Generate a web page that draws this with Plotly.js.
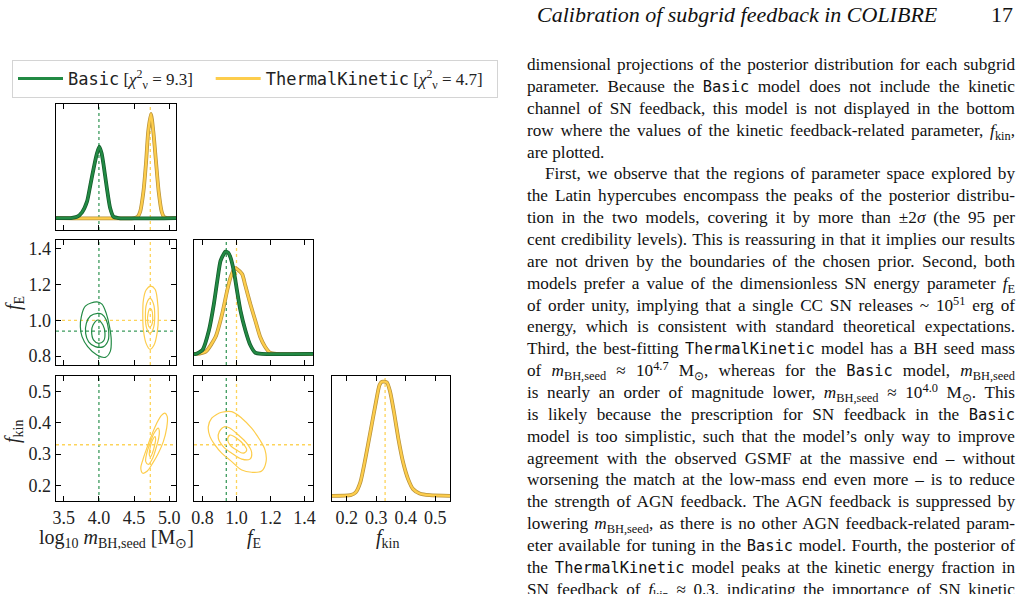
<!DOCTYPE html>
<html><head><meta charset="utf-8">
<script src="https://cdn.plot.ly/plotly-3.0.1.min.js"></script>
<style>
body{margin:0;background:#fff;}
#wrap{position:relative;width:1021px;height:594px;overflow:hidden;background:#fff;}
#plot{position:absolute;left:0;top:0;width:1021px;height:594px;}
.hdr{position:absolute;font-family:'Liberation Serif';font-size:22px;line-height:22px;color:#111;white-space:nowrap;}
.ln{position:absolute;font-family:'Liberation Serif';font-size:17.2px;line-height:22px;color:#111;white-space:nowrap;}
.tt{font-family:'DejaVu Sans Mono';font-size:15.4px;}
.ln sub,.ln sup{font-size:0.72em;line-height:0;}
.ln sub{vertical-align:-0.32em}
.ln sup{vertical-align:0.5em}
</style></head>
<body>
<div id="wrap">
<div id="plot"></div>
<div class="hdr" style="left:537px;top:4px;font-style:italic;">Calibration of subgrid feedback in COLIBRE</div>
<div class="hdr" style="left:991px;top:4px;">17</div>
<div id="text"></div>
</div>
<script>
// ---------- axis ranges and ticks ----------
const mbhRange = [3.39, 5.095];
const fERange = [0.75, 1.45];
const fkRange = [0.15, 0.55];
const mbhTicks = [3.5, 4.0, 4.5, 5.0];
const fETicks = [0.8, 1.0, 1.2, 1.4];
const fkTicks = [0.2, 0.3, 0.4, 0.5];

// ---------- best-fit values (dotted lines) ----------
const bestBasic = [4.00, 0.94];          // log10 mBH,seed, fE
const bestTK = [4.73, 1.00, 0.33];       // log10 mBH,seed, fE, fkin

// ---------- 1D marginal posteriors ----------
const mbhX_basic = [3.39, 3.60, 3.689, 3.760, 3.830, 3.878, 3.925, 3.972, 4.005, 4.038, 4.066, 4.113, 4.160, 4.207, 4.278, 5.095];
const mbhP_basic = [0, 0, 0.012, 0.055, 0.157, 0.317, 0.478, 0.622, 0.686, 0.622, 0.51, 0.286, 0.093, 0.012, 0, 0];
const mbhX_tk = [3.39, 4.50, 4.547, 4.585, 4.632, 4.670, 4.700, 4.740, 4.773, 4.811, 4.849, 4.892, 4.924, 4.970, 5.095];
const mbhP_tk = [0, 0, 0.01, 0.06, 0.253, 0.54, 0.83, 1.0, 0.83, 0.54, 0.253, 0.06, 0.01, 0, 0];

const fEX_basic = [0.75, 0.761, 0.800, 0.838, 0.867, 0.887, 0.906, 0.926, 0.935, 0.951, 0.965, 0.984, 1.003, 1.023, 1.052, 1.081, 1.110, 1.149, 1.45];
const fEP_basic = [0, 0.0, 0.039, 0.232, 0.49, 0.716, 0.91, 0.98, 1.0, 0.99, 0.942, 0.813, 0.619, 0.426, 0.232, 0.087, 0.013, 0, 0];
const fEX_tk = [0.75, 0.761, 0.819, 0.877, 0.916, 0.945, 0.965, 0.990, 1.003, 1.033, 1.052, 1.081, 1.110, 1.139, 1.168, 1.197, 1.236, 1.45];
const fEP_tk = [0, 0, 0.023, 0.168, 0.394, 0.619, 0.748, 0.839, 0.829, 0.781, 0.668, 0.49, 0.329, 0.168, 0.071, 0.013, 0, 0];

const fkX_tk = [0.15, 0.213, 0.230, 0.246, 0.263, 0.280, 0.297, 0.311, 0.319, 0.336, 0.347, 0.360, 0.375, 0.391, 0.408, 0.425, 0.447, 0.481, 0.55];
const fkP_tk = [0, 0.006, 0.029, 0.118, 0.324, 0.559, 0.794, 0.971, 1.0, 0.994, 0.912, 0.735, 0.5, 0.294, 0.147, 0.059, 0.021, 0.006, 0];

// ---------- 2D credible contours ----------
// Basic: log10 mBH,seed vs fE
const basic_mfE_outer_m = [3.972, 3.807, 3.750, 3.736, 3.760, 3.840, 3.972, 4.090, 4.160, 4.175, 4.151, 4.104, 4.043];
const basic_mfE_outer_f = [1.103, 1.080, 1.021, 0.964, 0.909, 0.853, 0.806, 0.793, 0.825, 0.889, 0.964, 1.039, 1.091];
const basic_mfE_mid_m = [3.981, 3.878, 3.821, 3.811, 3.854, 3.948, 4.066, 4.132, 4.137, 4.104, 4.043];
const basic_mfE_mid_f = [1.039, 1.024, 0.983, 0.927, 0.880, 0.853, 0.853, 0.889, 0.946, 1.002, 1.034];
const basic_mfE_inner_m = [3.986, 3.916, 3.896, 3.925, 3.995, 4.066, 4.086, 4.057];
const basic_mfE_inner_f = [1.002, 0.974, 0.937, 0.889, 0.871, 0.885, 0.927, 0.974];
// ThermalKinetic: log10 mBH,seed vs fE
const tk_mfE_outer_m = [4.736, 4.670, 4.632, 4.623, 4.632, 4.670, 4.726, 4.783, 4.830, 4.844, 4.830, 4.797];
const tk_mfE_outer_f = [1.192, 1.170, 1.114, 1.021, 0.946, 0.871, 0.838, 0.862, 0.937, 1.021, 1.114, 1.174];
const tk_mfE_mid_m = [4.726, 4.679, 4.660, 4.679, 4.726, 4.773, 4.793, 4.773];
const tk_mfE_mid_f = [1.123, 1.095, 1.021, 0.955, 0.927, 0.955, 1.021, 1.095];
const tk_mfE_inner_m = [4.726, 4.698, 4.693, 4.717, 4.750, 4.764, 4.750];
const tk_mfE_inner_f = [1.067, 1.039, 0.993, 0.962, 0.974, 1.021, 1.058];
// ThermalKinetic: log10 mBH,seed vs fkin
const tk_mfk_outer_m = [4.938, 4.892, 4.821, 4.750, 4.680, 4.623, 4.595, 4.623, 4.688, 4.764, 4.844, 4.915, 4.962, 4.971];
const tk_mfk_outer_k = [0.431, 0.425, 0.399, 0.361, 0.319, 0.281, 0.255, 0.239, 0.246, 0.271, 0.303, 0.340, 0.383, 0.420];
const tk_mfk_mid_m = [4.844, 4.783, 4.726, 4.680, 4.665, 4.703, 4.764, 4.811, 4.849, 4.858];
const tk_mfk_mid_k = [0.383, 0.367, 0.335, 0.303, 0.276, 0.267, 0.287, 0.319, 0.351, 0.374];
const tk_mfk_inner_m = [4.797, 4.755, 4.726, 4.717, 4.736, 4.764, 4.792, 4.806];
const tk_mfk_inner_k = [0.356, 0.342, 0.319, 0.297, 0.292, 0.306, 0.329, 0.348];
// ThermalKinetic: fE vs fkin
const tk_fEfk_outer_f = [0.883, 0.854, 0.834, 0.844, 0.874, 0.913, 0.972, 1.031, 1.089, 1.148, 1.174, 1.168, 1.138, 1.089, 1.031, 0.972, 0.913];
const tk_fEfk_outer_k = [0.427, 0.415, 0.388, 0.356, 0.329, 0.303, 0.276, 0.249, 0.242, 0.246, 0.276, 0.313, 0.345, 0.383, 0.415, 0.436, 0.434];
const tk_fEfk_mid_f = [0.932, 0.899, 0.893, 0.922, 0.972, 1.031, 1.079, 1.089, 1.060, 1.011, 0.962];
const tk_fEfk_mid_k = [0.388, 0.372, 0.351, 0.324, 0.303, 0.284, 0.284, 0.306, 0.335, 0.361, 0.383];
const tk_fEfk_inner_f = [0.962, 0.948, 0.962, 1.001, 1.040, 1.060, 1.040, 1.001];
const tk_fEfk_inner_k = [0.361, 0.348, 0.329, 0.313, 0.303, 0.313, 0.332, 0.351];

// ---------- legend labels ----------
const legendBasic = '<span style="font-family:DejaVu Sans Mono">Basic</span> [<i>χ</i><sup>2</sup><sub>ν</sub> = 9.3]\u00a0\u00a0\u00a0';
const legendTK = '<span style="font-family:DejaVu Sans Mono">ThermalKinetic</span> [<i>χ</i><sup>2</sup><sub>ν</sub> = 4.7]\u00a0\u00a0';

// ---------- styling ----------
const GREEN = '#228a44', GREEN_DARK = '#145a2b', GREEN_DOT = '#3d9b5e';
const YEL = '#fdcd4c', YEL_DARK = '#b8923a', YEL_DOT = '#fdd45a';
const W = 1021, H = 594;
const col = [[56, 176], [194, 313], [332, 450]];
const row = [[104, 230], [240, 365], [376, 501]];
const dX = c => [col[c][0] / W, col[c][1] / W];
const dY = r => [1 - row[r][1] / H, 1 - row[r][0] / H];

const traces = [];
function marg(x, y, xa, ya, c, cd) {
  traces.push({x, y, xaxis: xa, yaxis: ya, mode: 'lines', line: {color: cd, width: 3.8, shape: 'spline', smoothing: 0.6}, showlegend: false, hoverinfo: 'skip'});
  traces.push({x, y, xaxis: xa, yaxis: ya, mode: 'lines', line: {color: c, width: 2.3, shape: 'spline', smoothing: 0.6}, showlegend: false});
}
function cont(x, y, xa, ya, c) {
  traces.push({x: x.concat([x[0]]), y: y.concat([y[0]]), xaxis: xa, yaxis: ya, mode: 'lines',
    line: {color: c, width: 1.2, shape: 'spline', smoothing: 1}, showlegend: false});
}
// legend entries
traces.push({x: [null], y: [null], xaxis: 'x', yaxis: 'y', mode: 'lines', line: {color: GREEN, width: 3}, name: legendBasic, showlegend: true});
traces.push({x: [null], y: [null], xaxis: 'x', yaxis: 'y', mode: 'lines', line: {color: YEL, width: 3}, name: legendTK, showlegend: true});

marg(mbhX_tk, mbhP_tk, 'x', 'y', YEL, YEL_DARK);
marg(mbhX_basic, mbhP_basic, 'x', 'y', GREEN, GREEN_DARK);
marg(fEX_tk, fEP_tk, 'x3', 'y3', YEL, YEL_DARK);
marg(fEX_basic, fEP_basic, 'x3', 'y3', GREEN, GREEN_DARK);
marg(fkX_tk, fkP_tk, 'x6', 'y6', YEL, YEL_DARK);

cont(basic_mfE_outer_m, basic_mfE_outer_f, 'x2', 'y2', GREEN);
cont(basic_mfE_mid_m, basic_mfE_mid_f, 'x2', 'y2', GREEN);
cont(basic_mfE_inner_m, basic_mfE_inner_f, 'x2', 'y2', GREEN);
cont(tk_mfE_outer_m, tk_mfE_outer_f, 'x2', 'y2', YEL);
cont(tk_mfE_mid_m, tk_mfE_mid_f, 'x2', 'y2', YEL);
cont(tk_mfE_inner_m, tk_mfE_inner_f, 'x2', 'y2', YEL);
cont(tk_mfk_outer_m, tk_mfk_outer_k, 'x4', 'y4', YEL);
cont(tk_mfk_mid_m, tk_mfk_mid_k, 'x4', 'y4', YEL);
cont(tk_mfk_inner_m, tk_mfk_inner_k, 'x4', 'y4', YEL);
cont(tk_fEfk_outer_f, tk_fEfk_outer_k, 'x5', 'y5', YEL);
cont(tk_fEfk_mid_f, tk_fEfk_mid_k, 'x5', 'y5', YEL);
cont(tk_fEfk_inner_f, tk_fEfk_inner_k, 'x5', 'y5', YEL);

// dotted best-fit lines
const shapes = [];
function vl(xa, ya, v, c) { shapes.push({type: 'line', xref: xa, yref: ya + ' domain', x0: v, x1: v, y0: 0, y1: 1, line: {color: c, width: 1.3, dash: 'dot'}, layer: 'below'}); }
function hl(xa, ya, v, c) { shapes.push({type: 'line', xref: xa + ' domain', yref: ya, x0: 0, x1: 1, y0: v, y1: v, line: {color: c, width: 1.3, dash: 'dot'}, layer: 'below'}); }
vl('x', 'y', bestBasic[0], GREEN_DOT); vl('x', 'y', bestTK[0], YEL_DOT);
vl('x2', 'y2', bestBasic[0], GREEN_DOT); vl('x2', 'y2', bestTK[0], YEL_DOT);
hl('x2', 'y2', bestTK[1], YEL_DOT); hl('x2', 'y2', bestBasic[1], GREEN_DOT);
vl('x3', 'y3', bestBasic[1], GREEN_DOT); vl('x3', 'y3', bestTK[1], YEL_DOT);
vl('x4', 'y4', bestBasic[0], GREEN_DOT); vl('x4', 'y4', bestTK[0], YEL_DOT); hl('x4', 'y4', bestTK[2], YEL_DOT);
vl('x5', 'y5', bestBasic[1], GREEN_DOT); vl('x5', 'y5', bestTK[1], YEL_DOT); hl('x5', 'y5', bestTK[2], YEL_DOT);
vl('x6', 'y6', bestTK[2], YEL_DOT);

const tickFont = {family: 'Liberation Serif', size: 18, color: '#222'};
const axBase = {showline: true, linecolor: '#000', linewidth: 1.3, mirror: 'allticks', ticks: 'inside', ticklen: 5, tickwidth: 1,
  tickcolor: '#000', showgrid: false, zeroline: false, tickfont: tickFont, tickformat: '.1f', tickmode: 'array', fixedrange: true};
const ax = (domain, anchor, range, tickvals, showticklabels) => Object.assign({}, axBase, {domain, anchor, range, tickvals, showticklabels});
const dens = (domain, anchor, range) => ({domain, anchor, range, showline: true, linecolor: '#000', linewidth: 1.3, mirror: true,
  ticks: '', showticklabels: false, showgrid: false, zeroline: false, fixedrange: true});

const titleFont = {family: 'Liberation Serif', size: 20, color: '#222'};
const ann = (text, x, y, angle) => ({text, x: x / W, y: 1 - y / H, xref: 'paper', yref: 'paper', showarrow: false,
  font: titleFont, textangle: angle || 0, xanchor: 'center', yanchor: 'middle'});

const layout = {
  width: W, height: H, margin: {l: 0, r: 0, t: 0, b: 0}, paper_bgcolor: '#fff', plot_bgcolor: 'rgba(0,0,0,0)',
  showlegend: true,
  legend: {x: 12 / W, y: 1 - 60 / H, xanchor: 'left', yanchor: 'top', orientation: 'h', bordercolor: '#d4d4d4', borderwidth: 1,
    bgcolor: '#fff', font: {family: 'Liberation Serif', size: 17, color: '#222'}, itemwidth: 45},
  xaxis: ax(dX(0), 'y', mbhRange, mbhTicks, false),
  yaxis: dens(dY(0), 'x', [-0.115, 1.096]),
  xaxis2: ax(dX(0), 'y2', mbhRange, mbhTicks, false),
  yaxis2: ax(dY(1), 'x2', fERange, fETicks, true),
  xaxis3: ax(dX(1), 'y3', fERange, fETicks, false),
  yaxis3: dens(dY(1), 'x3', [-0.108, 1.114]),
  xaxis4: ax(dX(0), 'y4', mbhRange, mbhTicks, true),
  yaxis4: ax(dY(2), 'x4', fkRange, fkTicks, true),
  xaxis5: ax(dX(1), 'y5', fERange, fETicks, true),
  yaxis5: ax(dY(2), 'x5', fkRange, fkTicks, false),
  xaxis6: ax(dX(2), 'y6', fkRange, fkTicks, true),
  yaxis6: dens(dY(2), 'x6', [-0.045, 1.05]),
  shapes,
  annotations: [
    ann('log<sub>10</sub> <i>m</i><sub>BH,seed</sub> [M<sub>⊙</sub>]', 116, 538),
    ann('<i>f</i><sub>E</sub>', 254, 538),
    ann('<i>f</i><sub>kin</sub>', 387, 538),
    ann('<i>f</i><sub>E</sub>', 14, 303, -90),
    ann('<i>f</i><sub>kin</sub>', 13, 432, -90)
  ]
};
Plotly.newPlot('plot', traces, layout, {staticPlot: true, displayModeBar: false});

// ---------- paper text (right column) ----------
const paperLines = [
  'dimensional projections of the posterior distribution for each subgrid',
  'parameter. Because the <span class="tt">Basic</span> model does not include the kinetic',
  'channel of SN feedback, this model is not displayed in the bottom',
  'row where the values of the kinetic feedback-related parameter, <i>f</i><sub>kin</sub>,',
  'are plotted.',
  'First, we observe that the regions of parameter space explored by',
  'the Latin hypercubes encompass the peaks of the posterior distribu-',
  'tion in the two models, covering it by more than ±2<i>σ</i> (the 95 per',
  'cent credibility levels). This is reassuring in that it implies our results',
  'are not driven by the boundaries of the chosen prior. Second, both',
  'models prefer a value of the dimensionless SN energy parameter <i>f</i><sub>E</sub>',
  'of order unity, implying that a single CC SN releases ~ 10<sup>51</sup> erg of',
  'energy, which is consistent with standard theoretical expectations.',
  'Third, the best-fitting <span class="tt">ThermalKinetic</span> model has a BH seed mass',
  'of <i>m</i><sub>BH,seed</sub> ≈ 10<sup>4.7</sup> M<sub>⊙</sub>, whereas for the <span class="tt">Basic</span> model, <i>m</i><sub>BH,seed</sub>',
  'is nearly an order of magnitude lower, <i>m</i><sub>BH,seed</sub> ≈ 10<sup>4.0</sup> M<sub>⊙</sub>. This',
  'is likely because the prescription for SN feedback in the <span class="tt">Basic</span>',
  'model is too simplistic, such that the model’s only way to improve',
  'agreement with the observed GSMF at the massive end – without',
  'worsening the match at the low-mass end even more – is to reduce',
  'the strength of AGN feedback. The AGN feedback is suppressed by',
  'lowering <i>m</i><sub>BH,seed</sub>, as there is no other AGN feedback-related param-',
  'eter available for tuning in the <span class="tt">Basic</span> model. Fourth, the posterior of',
  'the <span class="tt">ThermalKinetic</span> model peaks at the kinetic energy fraction in',
  'SN feedback of <i>f</i><sub>kin</sub> ≈ 0.3, indicating the importance of SN kinetic'
];
const raggedLines = [4];
const indentLines = [5];
const textBox = document.getElementById('text');
paperLines.forEach((html, i) => {
  const d = document.createElement('div');
  d.className = 'ln';
  const indent = indentLines.includes(i) ? 18 : 0;
  d.style.left = (527 + indent) + 'px';
  d.style.top = (54.2 + i * 21.85) + 'px';
  d.innerHTML = '<span>' + html + '</span>';
  textBox.appendChild(d);
  if (!raggedLines.includes(i)) {
    const target = 488 - indent;
    const w = d.firstChild.getBoundingClientRect().width;
    const nsp = (d.textContent.match(/ /g) || []).length;
    if (nsp > 0) d.style.wordSpacing = ((target - w) / nsp) + 'px';
  }
});
</script>
</body></html>
